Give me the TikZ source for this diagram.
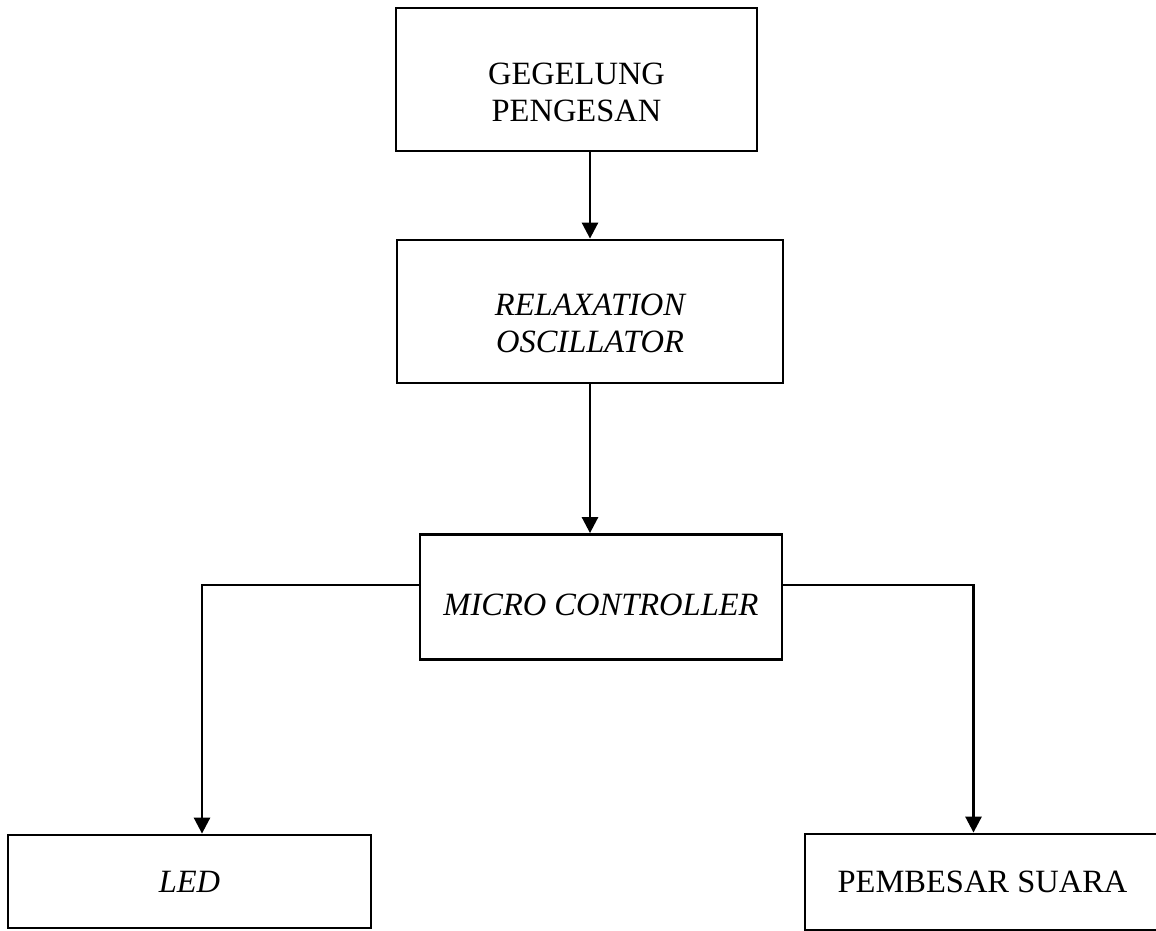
\documentclass[tikz,border=0pt]{standalone}
\usepackage{fontspec}
\setmainfont{Liberation Serif}
\usetikzlibrary{arrows.meta}
\begin{document}
\begin{tikzpicture}[x=1pt,y=-1pt,
  blk/.style={draw=black,line width=2.8pt,inner sep=0pt},
  txt/.style={align=center,inner sep=0pt,font=\fontsize{32.5}{37.5}\selectfont},
  arr/.style={draw=black,line width=2.7pt,-{Triangle[length=16pt,width=16pt]}}]
\useasboundingbox[fill=white] (0,0) rectangle (1156,931);
\node[blk,minimum width=361pt,minimum height=143pt,
  label={[txt,yshift=-13pt]center:GEGELUNG\\PENGESAN}] (g) at (576.5,79.5) {};
\node[blk,minimum width=386pt,minimum height=143pt,
  label={[txt,yshift=-12pt]center:\itshape RELAXATION\\\itshape OSCILLATOR}] (r) at (590,311.5) {};
\node[blk,minimum width=362pt,minimum height=125pt,
  label={[txt,yshift=-8pt]center:\itshape MICRO CONTROLLER}] (m) at (601,597) {};
\node[blk,minimum width=363pt,minimum height=93pt,
  label={[txt]center:\itshape LED}] (led) at (189.5,881.5) {};
\node[blk,minimum width=355pt,minimum height=96pt,
  label={[txt]center:PEMBESAR SUARA}] (pb) at (982.5,882) {};
\draw[arr] (g.south -| r.north) -- (r.north);
\draw[arr] (r.south) -- (r.south |- m.north);
\draw[arr] ([yshift=12pt]m.west) -| ([xshift=12.5pt]led.north);
\draw[arr] ([yshift=12pt]m.east) -| ([xshift=-9pt]pb.north);
\end{tikzpicture}
\end{document}
